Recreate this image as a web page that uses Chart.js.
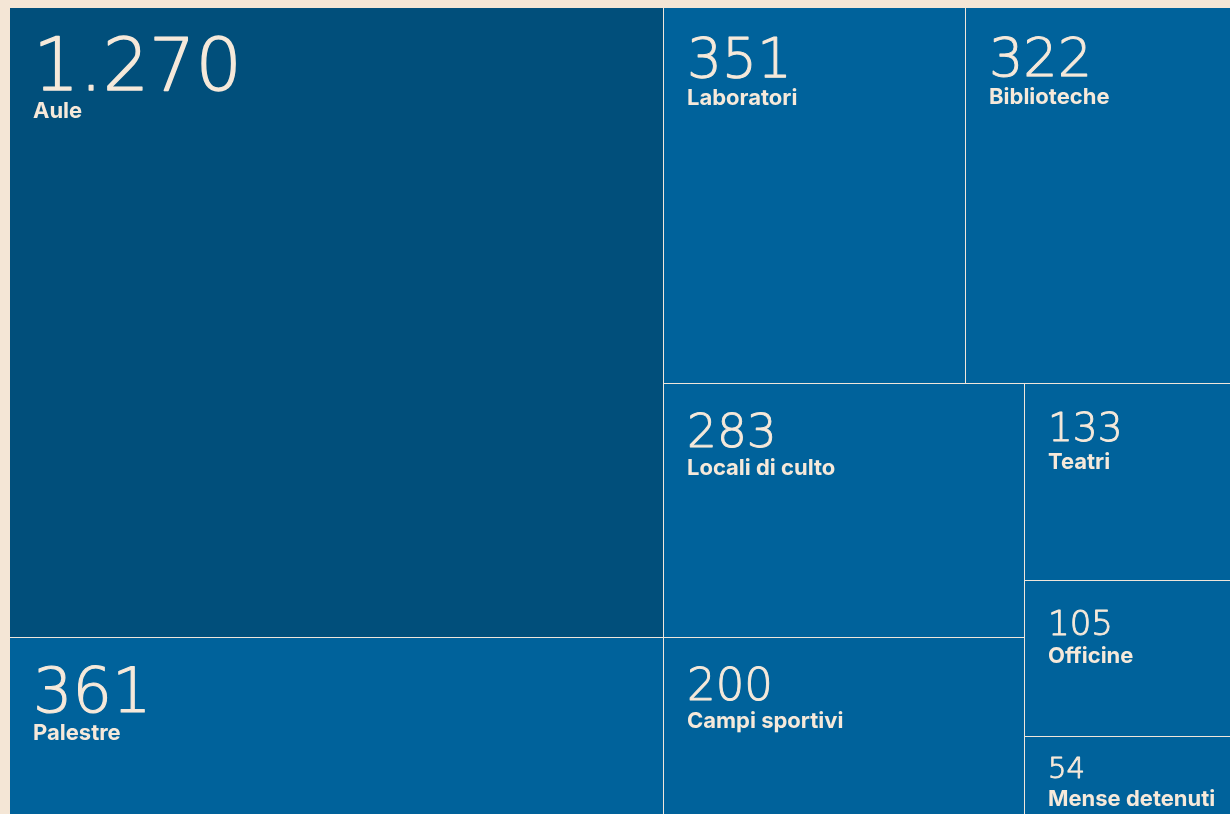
<!DOCTYPE html>
<html>
<head>
<meta charset="utf-8">
<script src="https://cdn.jsdelivr.net/npm/chart.js@4.4.1/dist/chart.umd.min.js"></script>
<style>
  html, body { margin: 0; padding: 0; background: #f4e6d6; overflow: hidden; width: 1230px; height: 814px; }
  #wrap { position: absolute; left: 10px; top: 8px; width: 1234px; height: 809px; }
  canvas { display: block; }
</style>
</head>
<body>
<div id="wrap"><canvas id="c" width="1234" height="809"></canvas></div>
<script>
// ---- data ----
const categories = ['Aule', 'Palestre', 'Laboratori', 'Biblioteche', 'Locali di culto', 'Campi sportivi', 'Teatri', 'Officine', 'Mense detenuti'];
const values = [1270, 361, 351, 322, 283, 200, 133, 105, 54];

// ---- styles ----
const cellColors = ['#014f7b', '#00629b', '#00629b', '#00629b', '#00629b', '#00629b', '#00629b', '#00629b', '#00629b'];
const valueFontPx = [73, 62, 55, 54, 47, 45, 39, 34, 29];
const textColor = '#f6e9da';
const edgeColor = '#efe6db';

function fmtNumber(v) {
  return String(v).replace(/\B(?=(\d{3})+(?!\d))/g, '.');
}

// squarified layout (golden ratio), returns rects in the given pixel-span space
function squarify(vals, W, H) {
  const ratio = (1 + Math.sqrt(5)) / 2;
  const rects = new Array(vals.length);
  let x0 = 0, y0 = 0, x1 = W, y1 = H;
  let value = vals.reduce((a, b) => a + b, 0);
  let i0 = 0, i1 = 0;
  const n = vals.length;
  while (i0 < n) {
    const dx = x1 - x0, dy = y1 - y0;
    let sum = vals[i1++], minV = sum, maxV = sum;
    const alpha = Math.max(dy / dx, dx / dy) / (value * ratio);
    let beta = sum * sum * alpha;
    let minRatio = Math.max(maxV / beta, beta / minV);
    for (; i1 < n; ++i1) {
      const v = vals[i1];
      sum += v;
      const mn = Math.min(minV, v), mx = Math.max(maxV, v);
      beta = sum * sum * alpha;
      const nr = Math.max(mx / beta, beta / mn);
      if (nr > minRatio) { sum -= v; break; }
      minRatio = nr; minV = mn; maxV = mx;
    }
    const dice = dx < dy * 0.9;
    if (dice) {
      const h = value ? dy * sum / value : dy;
      let cx = x0;
      for (let k = i0; k < i1; k++) {
        const w = dx * vals[k] / sum;
        rects[k] = { x: cx, y: y0, w: w, h: h };
        cx += w;
      }
      y0 += h;
    } else {
      const w = value ? dx * sum / value : dx;
      let cy = y0;
      for (let k = i0; k < i1; k++) {
        const hh = dy * vals[k] / sum;
        rects[k] = { x: x0, y: cy, w: w, h: hh };
        cy += hh;
      }
      x0 += w;
    }
    value -= sum;
    i0 = i1;
  }
  return rects;
}

class TreemapCell extends Chart.Element {
  static id = 'treemapCell';
  static defaults = {};
  draw(ctx, area) {
    const { x, y, w, h, color, showLeft, showTop, valueText, label, fs } = this;
    if (!isFinite(x)) return;
    const L = Math.round(x), R = Math.round(x + w), T = Math.round(y), B = Math.round(y + h);
    ctx.save();
    ctx.fillStyle = color;
    ctx.fillRect(L, T, R - L, B - T);
    ctx.fillStyle = edgeColor;
    if (showLeft) ctx.fillRect(L - 1, T - (showTop ? 1 : 0), 1, B - T + 1);
    if (showTop) ctx.fillRect(L - (showLeft ? 1 : 0), T - 1, R - L + 1, 1);
    ctx.beginPath();
    ctx.rect(L, T, R - L, B - T);
    ctx.clip();
    ctx.fillStyle = textColor;
    ctx.strokeStyle = textColor;
    ctx.textBaseline = 'alphabetic';
    ctx.textAlign = 'left';
    const pad = Math.min(29, (B - T) * 0.25);
    const valueBase = T + pad + fs * 0.729;
    ctx.font = '200 ' + fs + 'px "DejaVu Sans"';
    ctx.lineWidth = Math.max(0.9, fs * 0.018);
    ctx.lineJoin = 'round';
    ctx.fillText(valueText, L + 23, valueBase);
    ctx.strokeText(valueText, L + 23, valueBase);
    ctx.font = '700 22px Inter, "Open Sans", sans-serif';
    ctx.fillText(label, L + 23, valueBase + 28);
    ctx.restore();
  }
}

class TreemapController extends Chart.DatasetController {
  static id = 'treemap';
  static defaults = { dataElementType: 'treemapCell', datasetElementType: false };
  static overrides = {
    scales: {
      x: { type: 'linear', display: false },
      y: { type: 'linear', display: false }
    }
  };
  getMinMax(scale) { return { min: 0, max: 1 }; }
  update(mode) {
    const meta = this._cachedMeta;
    this.updateElements(meta.data, 0, meta.data.length, mode);
  }
  updateElements(cells, start, count, mode) {
    const meta = this._cachedMeta;
    const xScale = meta.xScale, yScale = meta.yScale;
    const px0 = xScale.getPixelForValue(0), px1 = xScale.getPixelForValue(1);
    const py0 = yScale.getPixelForValue(0), py1 = yScale.getPixelForValue(1);
    const W = Math.abs(px1 - px0), H = Math.abs(py1 - py0);
    if (!(W > 0 && H > 0)) return;
    const vals = this.getDataset().data;
    const labels = this.chart.data.labels;
    const rects = squarify(vals, W, H);
    for (let i = start; i < start + count; i++) {
      const r = rects[i];
      const left = xScale.getPixelForValue(r.x / W);
      const right = xScale.getPixelForValue((r.x + r.w) / W);
      const top = yScale.getPixelForValue(r.y / H);
      const bottom = yScale.getPixelForValue((r.y + r.h) / H);
      Object.assign(cells[i], {
        x: Math.min(left, right),
        y: Math.min(top, bottom),
        w: Math.abs(right - left),
        h: Math.abs(bottom - top),
        color: cellColors[i],
        showLeft: r.x > 0.5,
        showTop: r.y > 0.5,
        valueText: fmtNumber(vals[i]),
        label: labels[i],
        fs: valueFontPx[i]
      });
    }
  }
}

Chart.register(TreemapCell, TreemapController);

new Chart(document.getElementById('c'), {
  type: 'treemap',
  data: {
    labels: categories,
    datasets: [{ label: 'Spazi', data: values }]
  },
  options: {
    responsive: false,
    animation: false,
    events: [],
    layout: { padding: 0 },
    plugins: { legend: { display: false }, tooltip: { enabled: false } },
    scales: {
      x: { type: 'linear', display: false, min: 0, max: 1 },
      y: { type: 'linear', display: false, min: 0, max: 1, reverse: true }
    }
  }
});
</script>
</body>
</html>
